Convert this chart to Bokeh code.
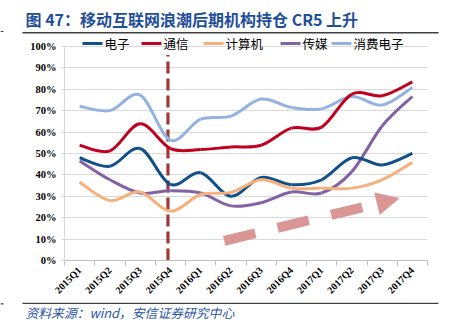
import numpy as np
from bokeh.plotting import figure
from bokeh.layouts import column
from bokeh.models import FixedTicker, Range1d, Label, PrintfTickFormatter
from bokeh.core.properties import value
from bokeh.embed import file_html
from bokeh.resources import INLINE

# ---------------- data ----------------
quarters = ["2015Q1", "2015Q2", "2015Q3", "2015Q4", "2016Q1", "2016Q2",
            "2016Q3", "2016Q4", "2017Q1", "2017Q2", "2017Q3", "2017Q4"]
electronics = [48.0, 44.0, 52.3, 35.5, 41.0, 30.0, 38.8, 35.4, 37.7, 48.0, 44.6, 50.0]
telecom = [53.8, 51.2, 63.8, 52.3, 51.8, 53.0, 53.8, 61.8, 62.3, 77.7, 76.9, 83.4]
computer = [36.6, 28.0, 32.0, 23.0, 30.8, 31.8, 37.7, 33.8, 33.8, 33.8, 37.7, 45.8]
media = [46.5, 37.7, 31.5, 32.6, 31.5, 25.5, 27.0, 32.0, 31.5, 41.5, 62.8, 76.6]
consumer = [72.0, 70.0, 77.2, 56.2, 66.0, 67.4, 75.4, 71.5, 70.8, 76.6, 72.6, 80.8]
series_names = ["电子", "通信", "计算机", "传媒", "消费电子"]
series_values = [electronics, telecom, computer, media, consumer]
y_ticks = [0, 10, 20, 30, 40, 50, 60, 70, 80, 90, 100]

title_text = "图 47：移动互联网浪潮后期机构持仓 CR5 上升"
source_text = "资料来源：wind，安信证券研究中心"

# ---------------- layout / styles ----------------
colors = ["#115088", "#c0001e", "#f6b07c", "#8262a4", "#93b2e0"]
ARROW_COLOR = "#d99694"
RULE_COLOR = "#404040"
W = 450
TOP_H = 34            # header strip (title + rule)
BOT_H = 29            # footer strip (rule + source)
MAIN_H = 331 - TOP_H - BOT_H
LEFT, RIGHT = 64, 23
PLOT_TOP = 46 - TOP_H          # y of 100% gridline inside main canvas
PLOT_BOTTOM = 263 - TOP_H      # y of 0% inside main canvas
BOTTOM = MAIN_H - PLOT_BOTTOM
YPX = (PLOT_BOTTOM - PLOT_TOP) / 100.0
XPX = (W - LEFT - RIGHT) / len(quarters)
y_max = 100 + PLOT_TOP / YPX


def strip(height):
    f = figure(width=W, height=height, output_backend="svg", toolbar_location=None,
               x_range=Range1d(0, W), y_range=Range1d(0, height),
               x_axis_location=None, y_axis_location=None,
               min_border=0, min_border_left=0, min_border_right=0,
               min_border_top=0, min_border_bottom=0)
    f.frame_align = False
    f.grid.visible = False
    f.outline_line_color = None
    f.background_fill_color = "white"
    f.border_fill_color = "white"
    return f


# header
top = strip(TOP_H)
top.add_layout(Label(x=25, y=TOP_H - 18, x_units="screen", y_units="screen",
                     text=title_text, text_font="Noto Sans CJK SC", text_font_style="bold",
                     text_font_size="16px", text_color="#1f4e9a", text_baseline="middle"))
top.quad(left=[22], right=[438], bottom=[1.0], top=[2.5], fill_color=RULE_COLOR, line_color=None)
top.quad(left=[0], right=[3], bottom=[2.4], top=[3.6], fill_color=RULE_COLOR, line_color=None)

# footer
bot = strip(BOT_H)
bot.quad(left=[22], right=[438], bottom=[BOT_H - 1.6], top=[BOT_H - 0.1],
         fill_color=RULE_COLOR, line_color=None)
bot.quad(left=[0], right=[3], bottom=[BOT_H - 2.0], top=[BOT_H - 0.8],
         fill_color=RULE_COLOR, line_color=None)
bot.add_layout(Label(x=25, y=BOT_H - 10, x_units="screen", y_units="screen",
                     text=source_text, text_font="Noto Sans CJK SC", text_font_style="italic",
                     text_font_size="12.8px", text_color="#2a56a6", text_baseline="middle"))

# main chart
p = figure(width=W, height=MAIN_H, output_backend="svg", toolbar_location=None,
           x_range=Range1d(-0.5, len(quarters) - 0.5), y_range=Range1d(0, y_max),
           min_border_left=LEFT, min_border_right=RIGHT,
           min_border_top=0, min_border_bottom=BOTTOM)
p.frame_align = False
p.outline_line_color = None
p.background_fill_color = "white"
p.border_fill_color = "white"

p.xgrid.grid_line_color = None
p.ygrid.grid_line_color = "#d9d9d9"
p.ygrid.grid_line_width = 1

idx = list(range(len(quarters)))
p.xaxis.ticker = FixedTicker(ticks=idx, minor_ticks=[i - 0.5 for i in idx] + [len(idx) - 0.5])
p.xaxis.major_label_overrides = {i: q for i, q in enumerate(quarters)}
p.xaxis.major_label_orientation = np.pi / 4
p.xaxis.major_tick_out = 0
p.xaxis.major_tick_in = 0
p.xaxis.minor_tick_out = 5
p.xaxis.minor_tick_in = 0
p.xaxis.minor_tick_line_color = "#bfbfbf"
p.xaxis.axis_line_color = "#bfbfbf"
p.xaxis.major_label_text_font = "Liberation Serif"
p.xaxis.major_label_text_font_style = "bold"
p.xaxis.major_label_text_font_size = "10px"
p.xaxis.major_label_text_color = "black"
p.xaxis.major_label_standoff = 3

p.yaxis.ticker = FixedTicker(ticks=y_ticks)
p.yaxis.formatter = PrintfTickFormatter(format="%d%%")
p.yaxis.bounds = (0, 100)
p.yaxis.axis_line_color = "#d9d9d9"
p.yaxis.major_tick_line_color = "#d9d9d9"
p.yaxis.major_tick_out = 3
p.yaxis.major_tick_in = 0
p.yaxis.minor_tick_out = 0
p.yaxis.minor_tick_in = 0
p.yaxis.major_label_text_font = "Liberation Serif"
p.yaxis.major_label_text_font_style = "bold"
p.yaxis.major_label_text_font_size = "10.5px"
p.yaxis.major_label_text_color = "black"
p.yaxis.major_label_standoff = 5


def smooth_segments(xs, ys):
    """Catmull-Rom style bezier control points (like Excel smoothed lines)."""
    n = len(xs)
    P = np.column_stack([xs, ys]).astype(float)
    ext = np.vstack([P[0], P, P[-1]])
    out = {k: [] for k in ("x0", "y0", "x1", "y1", "cx0", "cy0", "cx1", "cy1")}
    for i in range(n - 1):
        pm, a, b, pn = ext[i], ext[i + 1], ext[i + 2], ext[i + 3]
        c0 = a + (b - pm) / 6.0
        c1 = b - (pn - a) / 6.0
        out["x0"].append(a[0]); out["y0"].append(a[1])
        out["x1"].append(b[0]); out["y1"].append(b[1])
        out["cx0"].append(c0[0]); out["cy0"].append(c0[1])
        out["cx1"].append(c1[0]); out["cy1"].append(c1[1])
    return out


# event marker (vertical dashed line at 2015Q4)
event_x = 2.92
event_top = 96
p.segment(x0=[event_x], y0=[0], x1=[event_x], y1=[event_top],
          line_color="#9b3a38", line_width=3.2, line_dash="12 5")

# series
for k in [4, 1, 3, 0, 2]:
    p.bezier(**smooth_segments(idx, series_values[k]), line_color=colors[k], line_width=3)

# trend arrow: dashed body + triangular head (geometry computed in pixel space)
arrow_start = (4.78, 9.2)
arrow_tip = (10.55, 29.0)
head_len, head_w = 22.0, 22.0
s0 = np.array([arrow_start[0] * XPX, arrow_start[1] * YPX])
s1 = np.array([arrow_tip[0] * XPX, arrow_tip[1] * YPX])
u = (s1 - s0) / np.hypot(*(s1 - s0))
nrm = np.array([-u[1], u[0]])
base = s1 - head_len * u
v1 = base + nrm * head_w / 2
v2 = base - nrm * head_w / 2
p.segment(x0=[arrow_start[0]], y0=[arrow_start[1]], x1=[base[0] / XPX], y1=[base[1] / YPX],
          line_color=ARROW_COLOR, line_width=10, line_dash="32 23")
p.patch(x=[arrow_tip[0], v1[0] / XPX, v2[0] / XPX], y=[arrow_tip[1], v1[1] / YPX, v2[1] / YPX],
        fill_color=ARROW_COLOR, line_color=ARROW_COLOR, line_width=1)

# legend (drawn with glyphs, positioned like the original)
legend_sx = [82, 141, 203, 280, 331]
legend_sy = 43
lx0 = [(sx - LEFT) / XPX - 0.5 for sx in legend_sx]
lx1 = [(sx + 20 - LEFT) / XPX - 0.5 for sx in legend_sx]
ltx = [(sx + 22 - LEFT) / XPX - 0.5 for sx in legend_sx]
ly = [(263 - legend_sy) / YPX] * len(series_names)
p.segment(x0=lx0, y0=ly, x1=lx1, y1=ly, line_color=colors, line_width=3)
p.text(x=ltx, y=ly, text=series_names, text_font=value("Noto Sans CJK SC"),
       text_font_size=value("12.5px"), text_baseline="middle", text_align="left",
       text_color="black")

layout = column(top, p, bot, spacing=0)
open("out.html", "w").write(file_html(layout, INLINE))
